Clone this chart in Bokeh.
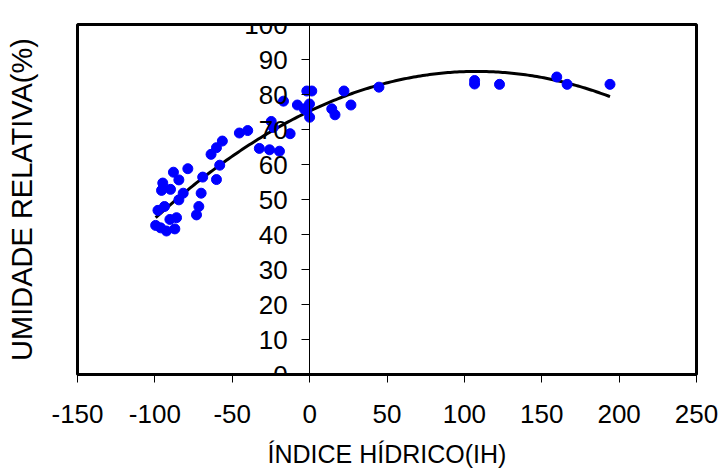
import numpy as np
from bokeh.plotting import figure
from bokeh.models import LinearAxis, FixedTicker, ColumnDataSource
from bokeh.embed import file_html
from bokeh.resources import INLINE

# Data
indice_hidrico = [-99.5, -96.3, -92.5, -87.1, -90.3, -86.0, -98.0, -93.8, -95.7, -94.9,
                  -89.9, -84.5, -81.7, -88.0, -84.5, -78.7, -73.1, -71.6, -70.1, -69.1,
                  -60.2, -58.1, -63.7, -60.2, -56.4, -45.4, -40.0, -32.5, -25.9, -19.5,
                  -12.6, -24.8, -23.5, -16.9, -1.8, 1.4, -7.9, -3.5, -0.1, 0.0,
                  -1.8, 14.3, 16.4, 22.2, 26.7, 44.8, 106.6, 106.6, 122.7, 159.7,
                  166.4, 194.1]
umidade_relativa = [42.6, 41.9, 41.0, 41.6, 44.3, 44.8, 46.9, 48.0, 52.6, 54.7,
                    52.9, 49.9, 51.8, 57.8, 55.6, 58.8, 45.6, 48.0, 51.8, 56.4,
                    55.7, 59.8, 62.9, 64.8, 66.7, 69.0, 69.7, 64.6, 64.2, 63.8,
                    68.8, 72.3, 70.6, 78.1, 81.0, 81.0, 77.0, 75.9, 77.3, 73.5,
                    75.4, 75.9, 74.2, 81.0, 77.0, 82.1, 84.0, 83.0, 82.9, 85.0,
                    82.9, 82.9]
x_ticks = [-150, -100, -50, 0, 50, 100, 150, 200, 250]
y_ticks = [0, 10, 20, 30, 40, 50, 60, 70, 80, 90, 100]

# Order-2 polynomial trendline coefficients (a, b, c)
trend_coef = [-0.000971, 0.2097, 75.27]
trend_x = [min(indice_hidrico), max(indice_hidrico)]

tx = np.linspace(trend_x[0], trend_x[1], 200)
ty = np.polyval(trend_coef, tx)

FONT = "Liberation Sans"

p = figure(frame_width=619, frame_height=350, x_range=(-150, 250), y_range=(0, 100),
           output_backend="svg", toolbar_location=None,
           min_border_left=77, min_border_top=24, min_border_right=22, min_border_bottom=94,
           background_fill_color="white", border_fill_color="white")
p.xgrid.visible = False
p.ygrid.visible = False
p.outline_line_color = "black"
p.outline_line_width = 3

# x axis (bottom)
xa = p.xaxis[0]
xa.ticker = FixedTicker(ticks=x_ticks)
xa.major_label_overrides = {t: str(t) for t in x_ticks}
xa.axis_line_color = None
xa.major_tick_out = 8
xa.major_tick_in = 0
xa.major_tick_line_color = "black"
xa.minor_tick_line_color = None
xa.major_label_text_font = FONT
xa.major_label_text_font_size = "26px"
xa.major_label_text_color = "black"
xa.major_label_standoff = 22
xa.axis_label = "ÍNDICE HÍDRICO(IH)"
xa.axis_label_text_font = FONT
xa.axis_label_text_font_size = "25px"
xa.axis_label_text_font_style = "normal"
xa.axis_label_text_color = "black"
xa.axis_label_standoff = 14

# left axis holds only the title
ya = p.yaxis[0]
ya.ticker = FixedTicker(ticks=[])
ya.axis_line_color = None
ya.major_tick_line_color = None
ya.minor_tick_line_color = None
ya.axis_label = "UMIDADE RELATIVA(%)"
ya.axis_label_text_font = FONT
ya.axis_label_text_font_size = "29px"
ya.axis_label_text_font_style = "normal"
ya.axis_label_text_color = "black"
ya.axis_label_standoff = 40

# y axis drawn at x = 0
yax = LinearAxis(fixed_location=0, ticker=FixedTicker(ticks=y_ticks),
                 major_tick_out=8, major_tick_in=0, minor_tick_line_color=None,
                 axis_line_color="black", axis_line_width=1,
                 major_label_text_font=FONT, major_label_text_font_size="26px",
                 major_label_text_color="black", major_label_standoff=14)
p.add_layout(yax, "left")

src = ColumnDataSource(dict(x=indice_hidrico, y=umidade_relativa))
p.line(tx, ty, line_color="black", line_width=3)
p.scatter("x", "y", source=src, size=10, fill_color="#0000FF", line_color="#0000FF")

open("out.html", "w").write(file_html(p, INLINE))
